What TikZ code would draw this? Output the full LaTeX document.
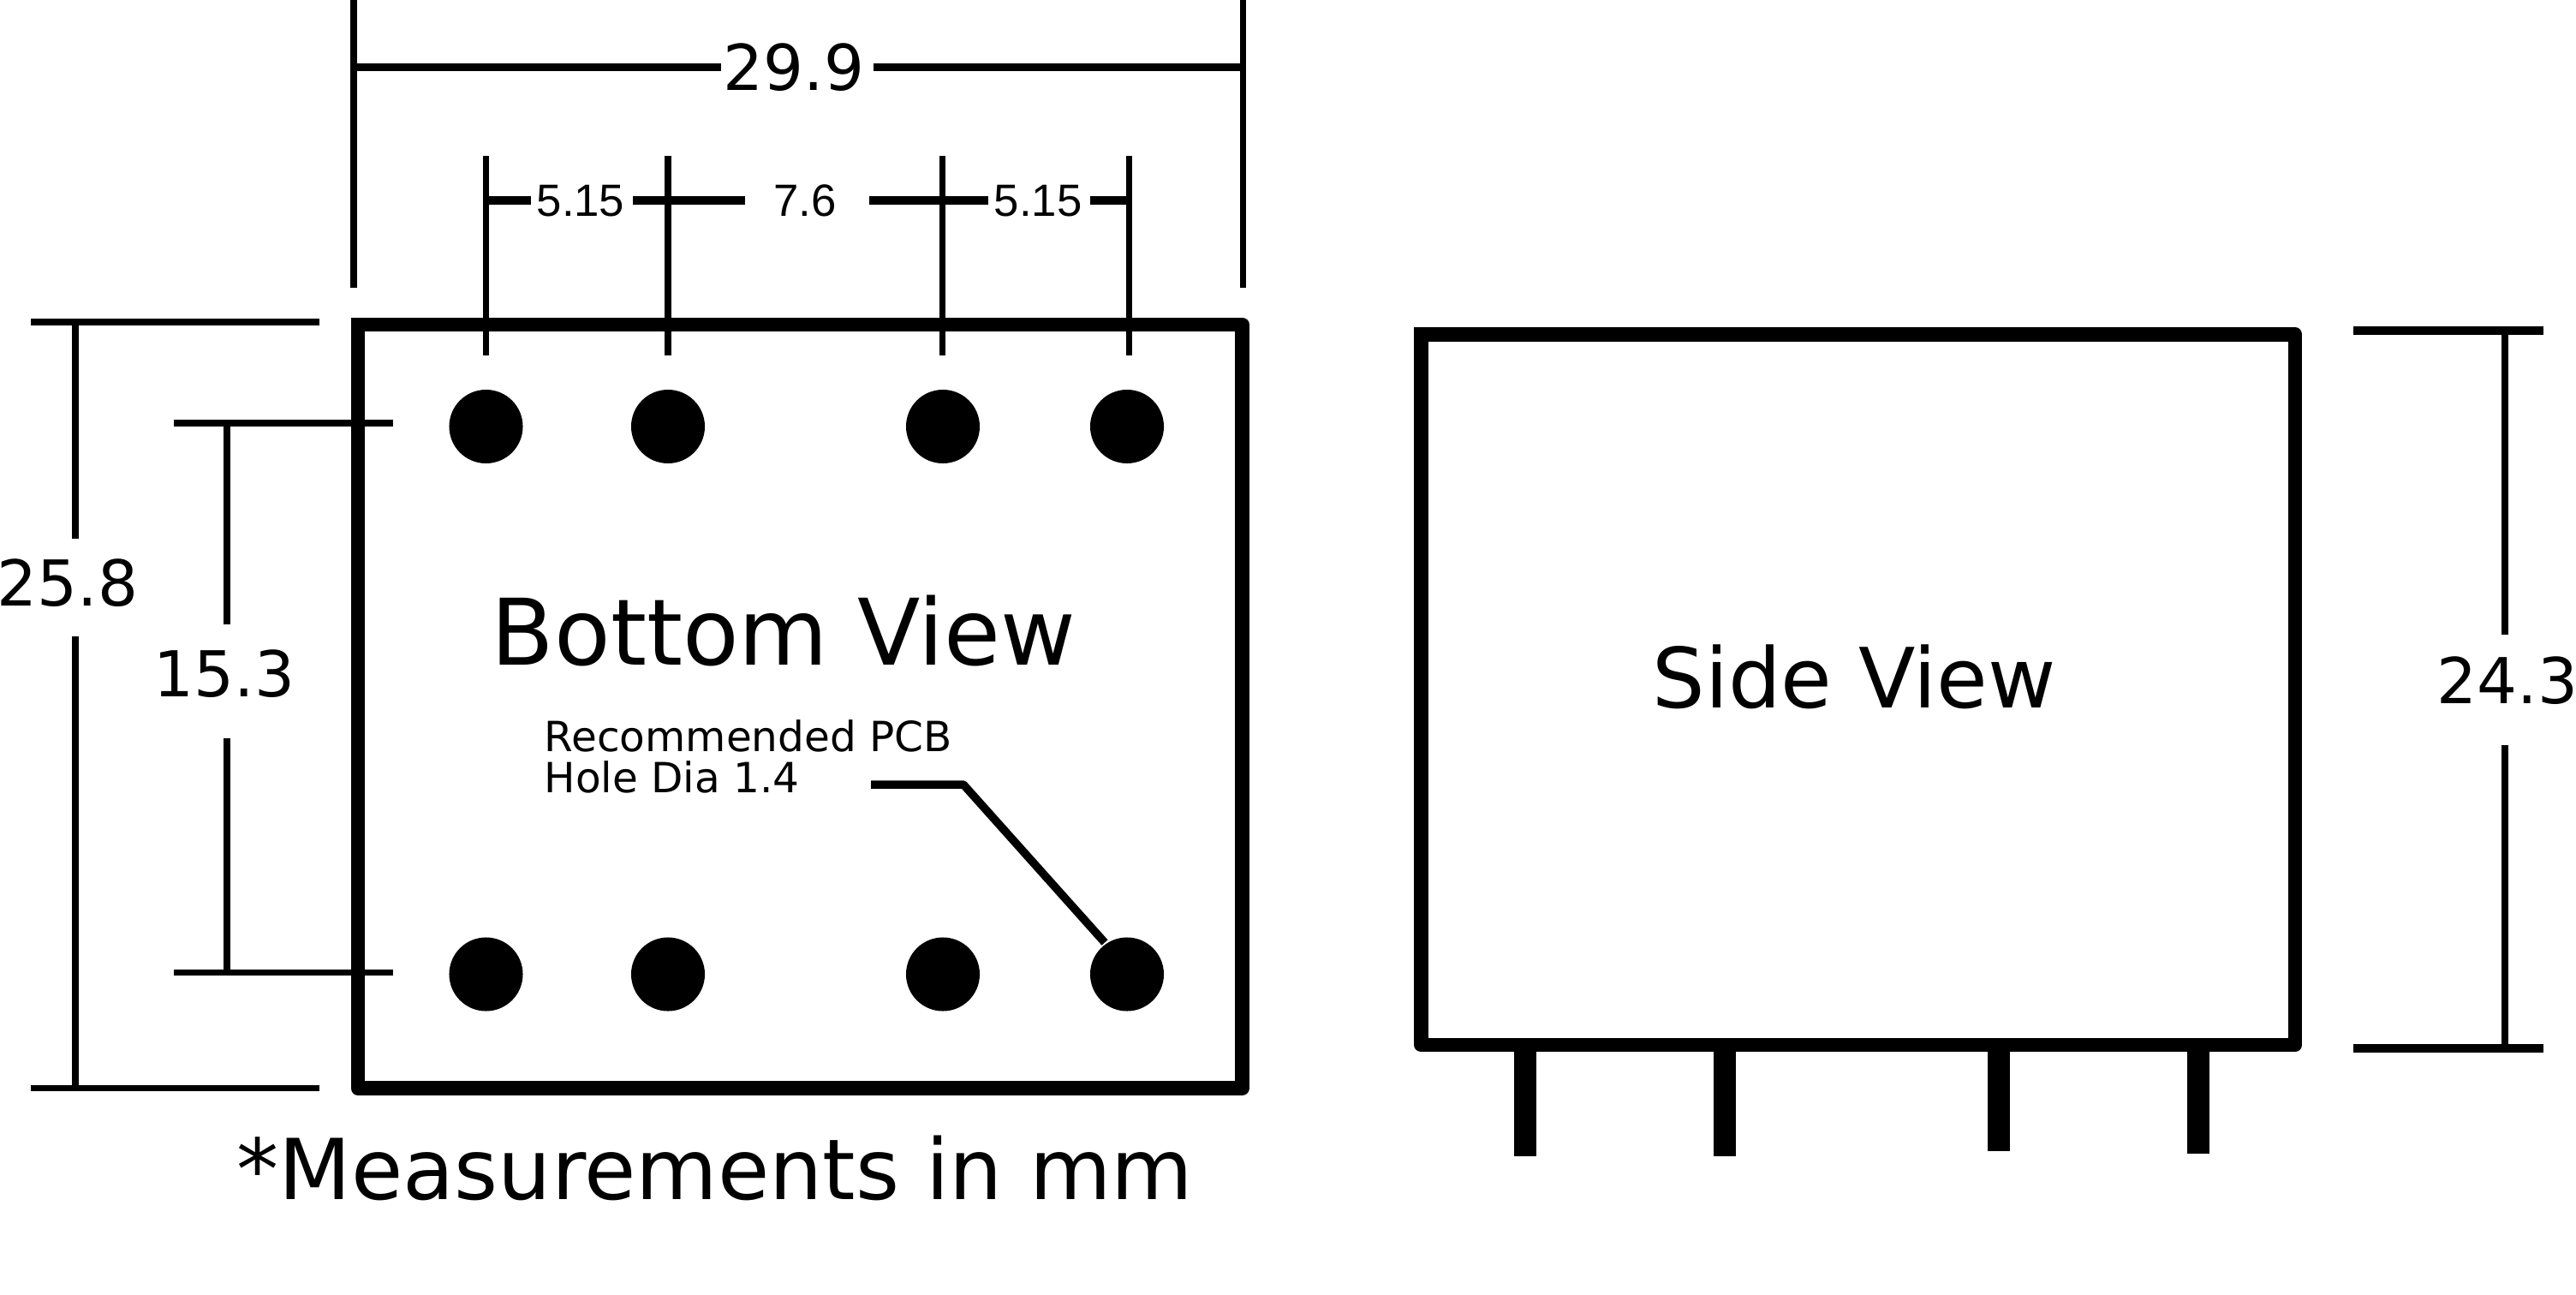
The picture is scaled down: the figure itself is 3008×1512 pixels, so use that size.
\documentclass[tikz,border=0pt]{standalone}
\usepackage{fontspec}
\setmainfont{DejaVu Sans}
\newfontfamily\dimfont{Liberation Sans}
\tikzstyle{none}=[inner sep=0pt,outer sep=0pt]
\tikzstyle{title}=[inner sep=0pt,anchor=base,font=\fontsize{30.5}{36}\selectfont]
\tikzstyle{sidetitle}=[inner sep=0pt,anchor=base,font=\fontsize{27.6}{34}\selectfont]
\tikzstyle{dimlabel}=[inner sep=0pt,anchor=base,font=\fontsize{21}{26}\selectfont]
\tikzstyle{pinlabel}=[inner sep=0pt,anchor=base,font=\dimfont\fontsize{15}{18}\selectfont]
\tikzstyle{note}=[inner sep=0pt,anchor=base west,font=\fontsize{13.8}{14}\selectfont]
\tikzstyle{hole}=[circle,fill=black,inner sep=0pt,minimum size=0.86cm]
\tikzstyle{outline}=[line width=4.8pt,line join=round,line cap=rect]
\tikzstyle{pin}=[line width=7.4pt]
\tikzstyle{thin}=[line width=2pt]
\tikzstyle{thick}=[line width=2.7pt]

\begin{document}
\begin{tikzpicture}[x=0.01cm,y=-0.01cm]
            \useasboundingbox (0,0) rectangle (3008,1512);
            % bottom view
            \coordinate (0) at (418, 379);
            \coordinate (1) at (1450.5, 379);
            \coordinate (2) at (1450.5, 1270.5);
            \coordinate (3) at (418, 1270.5);
            \draw [style=outline] (0) -- (1) -- (2) -- (3) -- (0);
            \node [style=hole] (h1) at (567.5, 498) {};
            \node [style=hole] (h2) at (780, 498) {};
            \node [style=hole] (h3) at (1101, 498) {};
            \node [style=hole] (h4) at (1316, 498) {};
            \node [style=hole] (h5) at (567.5, 1137.5) {};
            \node [style=hole] (h6) at (780, 1137.5) {};
            \node [style=hole] (h7) at (1101, 1137.5) {};
            \node [style=hole] (h8) at (1316, 1137.5) {};
            \node [style=title] (bottom) at (915, 776) {Bottom View};
            \node [style=note] (rec) at (635, 877) {Recommended PCB};
            \node [style=note] (dia) at (635, 925.7) {Hole Dia 1.4};
            \node [style=title,font=\fontsize{27.9}{34}\selectfont] (mm) at (835, 1400) {*Measurements in mm};
            \coordinate (l0) at (1017, 916);
            \coordinate (l1) at (1125, 916);
            \coordinate (l2) at (1290, 1100.5);
            \draw [style=thick,line join=round] (l0) -- (l1) -- (l2);
            % width 29.9
            \coordinate (w0) at (413, 0);
            \coordinate (w1) at (413, 336);
            \coordinate (w2) at (1451.5, 0);
            \coordinate (w3) at (1451.5, 336);
            \coordinate (w4) at (842, 78.5);
            \coordinate (w5) at (1020, 78.5);
            \coordinate (w6) at (413, 78.5);
            \coordinate (w7) at (1449, 78.5);
            \node [style=dimlabel] (width) at (927, 105.5) {29.9};
            \draw [style=thin] (w0) to (w1);
            \draw [style=thin] (w2) to (w3);
            \draw [style=thick] (w6) to (w4);
            \draw [style=thick] (w5) to (w7);
            % pin spacing
            \coordinate (t0) at (567.5, 182);
            \coordinate (t1) at (567.5, 415);
            \coordinate (t2) at (780, 182);
            \coordinate (t3) at (780, 415);
            \coordinate (t4) at (1100.5, 182);
            \coordinate (t5) at (1100.5, 415);
            \coordinate (t6) at (1318.5, 182);
            \coordinate (t7) at (1318.5, 415);
            \draw [style=thin] (t0) to (t1);
            \draw [style=thin] (t2) to (t3);
            \draw [style=thin] (t4) to (t5);
            \draw [style=thin] (t6) to (t7);
            \coordinate (s0) at (567.5, 234);
            \coordinate (s1) at (620, 234);
            \coordinate (s2) at (739, 234);
            \coordinate (s3) at (870, 234);
            \coordinate (s4) at (1015, 234);
            \coordinate (s5) at (1154, 234);
            \coordinate (s6) at (1273, 234);
            \coordinate (s7) at (1318.5, 234);
            \draw [style=thick] (s0) to (s1);
            \draw [style=thick] (s2) to (s3);
            \draw [style=thick] (s4) to (s5);
            \draw [style=thick] (s6) to (s7);
            \node [style=pinlabel] (p0) at (678, 252) {5.15};
            \node [style=pinlabel] (p1) at (940, 252) {7.6};
            \node [style=pinlabel] (p2) at (1212, 252) {5.15};
            % height 25.8
            \coordinate (a0) at (36, 376);
            \coordinate (a1) at (373, 376);
            \coordinate (a2) at (36, 1270.5);
            \coordinate (a3) at (373, 1270.5);
            \coordinate (a4) at (88, 376);
            \coordinate (a5) at (88, 629);
            \coordinate (a6) at (88, 743);
            \coordinate (a7) at (88, 1270.5);
            \draw [style=thin,line width=2.2pt] (a0) to (a1);
            \draw [style=thin,line width=2.2pt] (a2) to (a3);
            \draw [style=thin] (a4) to (a5);
            \draw [style=thin] (a6) to (a7);
            \node [style=dimlabel] (height) at (79, 707.5) {25.8};
            % hole spacing 15.3
            \coordinate (b0) at (203, 494);
            \coordinate (b1) at (459, 494);
            \coordinate (b2) at (203, 1135.5);
            \coordinate (b3) at (459, 1135.5);
            \coordinate (b4) at (265, 494);
            \coordinate (b5) at (265, 728.5);
            \coordinate (b6) at (265, 861.7);
            \coordinate (b7) at (265, 1135.5);
            \draw [style=thin,line width=2.2pt] (b0) to (b1);
            \draw [style=thin,line width=2.2pt] (b2) to (b3);
            \draw [style=thin,line width=2.2pt] (b4) to (b5);
            \draw [style=thin,line width=2.2pt] (b6) to (b7);
            \node [style=dimlabel] (rows) at (262, 813) {15.3};
            % side view
            \coordinate (c0) at (1659.5, 390.5);
            \coordinate (c1) at (2680, 390.5);
            \coordinate (c2) at (2680, 1220);
            \coordinate (c3) at (1659.5, 1220);
            \draw [style=outline] (c0) -- (c1) -- (c2) -- (c3) -- (c0);
            \node [style=sidetitle] (side) at (2165, 826) {Side View};
            \coordinate (d0) at (1781, 1220);
            \coordinate (d1) at (1781, 1349.5);
            \coordinate (d2) at (2014, 1220);
            \coordinate (d3) at (2014, 1349.5);
            \coordinate (d4) at (2334, 1220);
            \coordinate (d5) at (2334, 1344);
            \coordinate (d6) at (2567, 1220);
            \coordinate (d7) at (2567, 1347);
            \draw [style=pin] (d0) to (d1);
            \draw [style=pin] (d2) to (d3);
            \draw [style=pin] (d4) to (d5);
            \draw [style=pin] (d6) to (d7);
            % height 24.3
            \coordinate (e0) at (2748, 386);
            \coordinate (e1) at (2970, 386);
            \coordinate (e2) at (2748, 1224);
            \coordinate (e3) at (2970, 1224);
            \coordinate (e4) at (2925, 386);
            \coordinate (e5) at (2925, 741);
            \coordinate (e6) at (2925, 870);
            \coordinate (e7) at (2925, 1224);
            \draw [style=thick] (e0) to (e1);
            \draw [style=thick] (e2) to (e3);
            \draw [style=thin,line width=2.3pt] (e4) to (e5);
            \draw [style=thin,line width=2.3pt] (e6) to (e7);
            \node [style=dimlabel] (total) at (2928, 821) {24.3};
    \end{tikzpicture}
\end{document}
